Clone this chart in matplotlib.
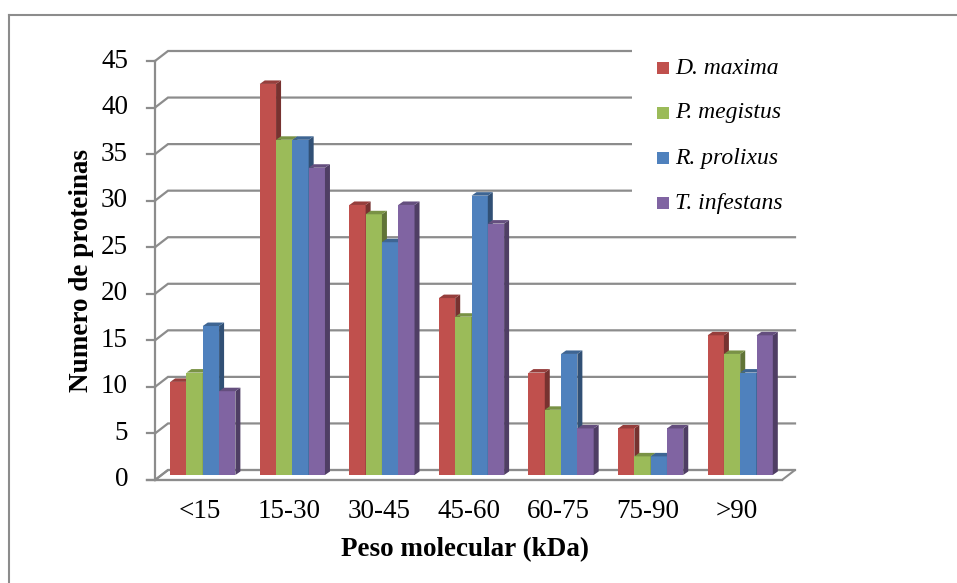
import numpy as np
import matplotlib

matplotlib.use("Agg")
import matplotlib.pyplot as plt
import matplotlib.patches as patches
from matplotlib.colors import to_rgb

categories = ["<15", "15-30", "30-45", "45-60", "60-75", "75-90", ">90"]
species = ["D. maxima", "P. megistus", "R. prolixus", "T. infestans"]
d_maxima = [10, 42, 29, 19, 11, 5, 15]
p_megistus = [11, 36, 28, 17, 7, 2, 13]
r_prolixus = [16, 36, 25, 30, 13, 2, 11]
t_infestans = [9, 33, 29, 27, 5, 5, 15]
yticks = [0, 5, 10, 15, 20, 25, 30, 35, 40, 45]

series = [d_maxima, p_megistus, r_prolixus, t_infestans]
colors = ["#C0504D", "#9BBB59", "#4F81BD", "#8064A2"]

W, H = 957, 583
GRID = "#8c8c8c"
SERIF = ["Liberation Serif", "DejaVu Serif"]

plt.rcParams.update({"font.family": SERIF, "figure.dpi": 100, "savefig.dpi": 100})


def shade(c, f):
    return tuple(min(1, v * f) for v in to_rgb(c))


def fx(x):
    return x / W


def fy(y):
    return 1 - y / H


fig = plt.figure(figsize=(W / 100, H / 100), facecolor="white")

# outer frame (only top and left edges visible)
fig.add_artist(plt.Line2D([fx(9), 1], [fy(15), fy(15)], color=GRID, lw=1.5))
fig.add_artist(plt.Line2D([fx(9), fx(9)], [fy(15), 0], color=GRID, lw=1.5))

ax = fig.add_axes([fx(155), 103 / H, 627 / W, 419 / H])
ax.set_xlim(0, len(categories))
ax.set_ylim(0, 45)
ax.axis("off")

# pixel -> data conversion
px = len(categories) / 627
py = 45 / 419
bx, by = 13 * px, 10 * py  # depth of the back wall

# floor
floor = patches.Polygon(
    [(0, 0), (len(categories), 0), (len(categories) + bx, by), (bx, by)],
    closed=True, facecolor="white", edgecolor=GRID, lw=1.5, zorder=1, clip_on=False,
)
ax.add_patch(floor)

# back wall gridlines and side wall diagonals, y ticks
for v in yticks:
    ax.plot([0, bx, len(categories) + bx], [v, v + by, v + by], color=GRID, lw=1.6,
            zorder=1, clip_on=False, solid_joinstyle="miter")
    ax.plot([-8 * px, 0], [v, v], color=GRID, lw=1.6, zorder=1, clip_on=False)
    ax.text(-27 * px, v, str(v), ha="right", va="center", fontsize=19.5, clip_on=False)
ax.plot([0, 0], [0, 45], color=GRID, lw=1.6, zorder=2, clip_on=False)
ax.plot([-8 * px, len(categories)], [0, 0], color=GRID, lw=1.6, zorder=2, clip_on=False)

# 3D-looking bars
n = len(series)
w = 0.182
ox, oy = 3 * px, 5 * py  # front face offset from the front plane
sx, sy = 5 * px, 3.5 * py  # bar depth
x = np.arange(len(categories)) + 0.5
for s, (vals, col) in enumerate(zip(series, colors)):
    xs = x - n * w / 2 + (s + 0.5) * w + ox
    z = 3 + s
    ax.bar(xs, vals, width=w, bottom=oy, color=col, zorder=z, clip_on=False)
    for xc, v in zip(xs, vals):
        x0, x1 = xc - w / 2, xc + w / 2
        top = oy + v
        ax.add_patch(patches.Polygon(
            [(x1, oy), (x1 + sx, oy + sy), (x1 + sx, top + sy), (x1, top)],
            closed=True, facecolor=shade(col, 0.62), edgecolor="none", zorder=z, clip_on=False))
        ax.add_patch(patches.Polygon(
            [(x0, top), (x1, top), (x1 + sx, top + sy), (x0 + sx, top + sy)],
            closed=True, facecolor=shade(col, 0.78), edgecolor="none", zorder=z, clip_on=False))

for i, cat in enumerate(categories):
    ax.text(i + 0.5, -31 * py, cat, ha="center", va="center", fontsize=19.5, clip_on=False)

fig.text(fx(82), fy(270), "Numero de proteinas", rotation=90, ha="center", va="center",
         fontsize=19.5, fontweight="bold")
fig.text(fx(465), fy(550), "Peso molecular (kDa)", ha="center", va="center",
         fontsize=19.5, fontweight="bold")

# legend
fig.add_artist(patches.Rectangle((fx(632), fy(228)), (812 - 632) / W, (228 - 36) / H,
                                 transform=fig.transFigure, facecolor="white",
                                 edgecolor="none", zorder=10))
for k, (name, col) in enumerate(zip(species, colors)):
    yc = 68 + 45 * k
    fig.add_artist(patches.Rectangle((fx(657), fy(yc + 6)), 12 / W, 12 / H,
                                     transform=fig.transFigure, facecolor=col,
                                     edgecolor="none", zorder=11))
    fig.text(fx(675), fy(yc), name, ha="left", va="center", fontsize=17,
             style="italic", zorder=12)

fig.savefig("out.png", facecolor="white")
